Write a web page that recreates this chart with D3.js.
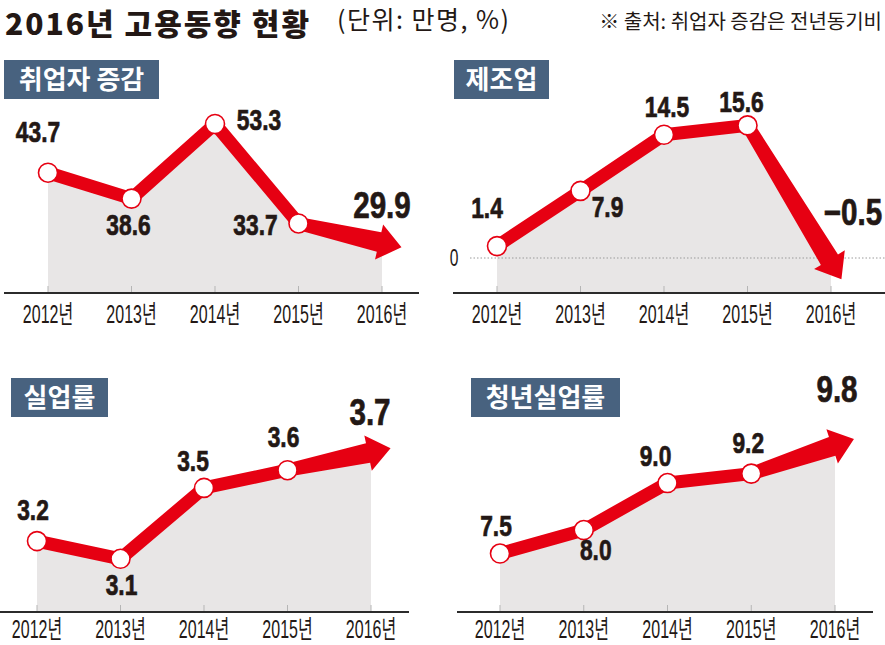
<!DOCTYPE html>
<html>
<head>
<meta charset="utf-8">
<script src="https://cdn.jsdelivr.net/npm/d3@7/dist/d3.min.js"></script>
<style>
  html, body { margin: 0; padding: 0; background: #fff; }
  svg { display: block; }
</style>
</head>
<body>
<svg id="chart" width="885" height="645"></svg>
<script>
// ---------------- DATA ----------------
const years = ["2012년", "2013년", "2014년", "2015년", "2016년"];
const employmentChange = [43.7, 38.6, 53.3, 33.7, 29.9];   // 취업자 증감 (만명)
const manufacturing    = [1.4, 7.9, 14.5, 15.6, -0.5];     // 제조업 (만명)
const unemployment     = [3.2, 3.1, 3.5, 3.6, 3.7];        // 실업률 (%)
const youthUnemployment = [7.5, 8.0, 9.0, 9.2, 9.8];       // 청년실업률 (%)
const panelTitles = ["취업자 증감", "제조업", "실업률", "청년실업률"];
const zeroTick = ["0"];
const mainTitle = "2016년 고용동향 현황";
const unitText = "(단위: 만명, %)";
const sourceText = "※ 출처: 취업자 증감은 전년동기비";

// ---------------- LAYOUT / STYLE ----------------
const RED = "#e60012", INK = "#231815", BOX = "#48627f", FILL = "#e8e6e6";
const NUMFONT = "'Liberation Sans', Arial, sans-serif";
const KFONT = "'Noto Sans CJK KR', 'Noto Sans', sans-serif";

const panels = [
  { title: panelTitles[0], values: employmentChange,
    xRange: [48, 382], axisY: 293, axisX: [4, 419], labelY: 323,
    yDomain: [20, 60], yRange: [293, 90],
    box: [4, 60, 155, 39],
    offsets: [[-10, -31], [-3, 36], [44, 6], [-43, 12], [0, -25]] },
  { title: panelTitles[1], values: manufacturing,
    xRange: [497, 831], axisY: 293, axisX: [453, 885], labelY: 323,
    yDomain: [-4, 18], yRange: [292, 105],
    box: [454, 60, 95, 39], zero: true,
    offsets: [[-10, -28], [27, 26], [3, -18], [-6, -13], [22, -37]] },
  { title: panelTitles[2], values: unemployment,
    xRange: [37, 371], axisY: 612, axisX: [0, 409], labelY: 638,
    yDomain: [2.8, 3.9], yRange: [612, 417],
    box: [11, 378, 97, 39],
    offsets: [[-4, -21], [1, 36], [-11, -17], [-4, -23], [-1, -27]] },
  { title: panelTitles[3], values: youthUnemployment,
    xRange: [500, 835], axisY: 612, axisX: [457, 873], labelY: 638,
    yDomain: [6.3, 10], yRange: [610, 436],
    box: [471, 378, 149, 39],
    offsets: [[-4, -18], [12, 30], [-12, -17], [-3, -21], [2, -43]] }
];

const svg = d3.select("#chart");

// condensed text helper
function ctext(g, str, x, y, opts) {
  const t = g.append("text")
    .attr("transform", `translate(${x},${y}) scale(${opts.sx || 1},1)`)
    .attr("text-anchor", opts.anchor || "middle")
    .attr("font-family", opts.family || NUMFONT)
    .attr("font-size", opts.size)
    .attr("font-weight", opts.weight || 400)
    .attr("fill", opts.fill || INK)
    .text(str);
  if (opts.stroke) t.attr("stroke", opts.fill || INK).attr("stroke-width", opts.stroke);
  return t;
}

// ---------------- HEADER ----------------
svg.append("text").attr("x", 5).attr("y", 35)
  .attr("font-family", KFONT).attr("font-weight", 900).attr("font-size", 30)
  .attr("letter-spacing", 2).attr("fill", INK).text(mainTitle);
svg.append("text").attr("x", 337).attr("y", 29)
  .attr("font-family", KFONT).attr("font-weight", 400).attr("font-size", 25)
  .attr("letter-spacing", 1.5).attr("fill", INK).text(unitText);
svg.append("text").attr("x", 882).attr("y", 29).attr("text-anchor", "end")
  .attr("font-family", KFONT).attr("font-weight", 400).attr("font-size", 20)
  .attr("fill", INK).text(sourceText);

// ---------------- PANELS ----------------
panels.forEach(p => {
  const g = svg.append("g");
  const x = d3.scalePoint().domain(years).range(p.xRange);
  const y = d3.scaleLinear().domain(p.yDomain).range(p.yRange);
  const pts = p.values.map((v, i) => [x(years[i]), y(v)]);

  // gray area
  const area = d3.area()
    .x((d, i) => x(years[i]))
    .y0(p.axisY)
    .y1(d => y(d));
  g.append("path").datum(p.values).attr("d", area).attr("fill", FILL);

  // zero reference line
  if (p.zero) {
    g.append("line")
      .attr("x1", 470).attr("x2", 885)
      .attr("y1", y(0)).attr("y2", y(0))
      .attr("stroke", "#9a9a9a").attr("stroke-width", 1)
      .attr("stroke-dasharray", "1.5,2");
    ctext(g, zeroTick[0], 454, y(0) + 8, { size: 24, sx: 0.65 });
  }

  // tick marks
  g.selectAll("line.tick").data(years).enter().append("line")
    .attr("x1", d => x(d)).attr("x2", d => x(d))
    .attr("y1", p.axisY - 7).attr("y2", p.axisY)
    .attr("stroke", "#b5b5b5").attr("stroke-width", 1);

  // axis baseline
  g.append("line")
    .attr("x1", p.axisX[0]).attr("x2", p.axisX[1])
    .attr("y1", p.axisY).attr("y2", p.axisY)
    .attr("stroke", "#2b2b2b").attr("stroke-width", 2);

  // year labels
  years.forEach(yr => {
    ctext(g, yr, x(yr), p.labelY, { size: 25, sx: 0.64, family: "'Liberation Sans', 'Noto Sans CJK KR', sans-serif" });
  });

  // thick red line (first four points)
  const line = d3.line();
  g.append("path").datum(pts.slice(0, 4)).attr("d", line)
    .attr("fill", "none").attr("stroke", RED).attr("stroke-width", 13)
    .attr("stroke-linejoin", "round");

  // last segment as an arrow
  const a = pts[3], b = pts[4];
  const len = Math.hypot(b[0] - a[0], b[1] - a[1]);
  const d = [(b[0] - a[0]) / len, (b[1] - a[1]) / len];
  const n = [-d[1], d[0]];
  const base = [b[0] - d[0] * 3, b[1] - d[1] * 3];
  const tip = [b[0] + d[0] * 20, b[1] + d[1] * 20];
  const off = (pt, k) => [pt[0] + n[0] * k, pt[1] + n[1] * k];
  const poly = [off(a, 6.5), off(base, 10), off(base, 18), tip, off(base, -18), off(base, -10), off(a, -6.5)];
  g.append("path").attr("d", "M" + poly.map(q => q.join(",")).join("L") + "Z").attr("fill", RED);

  // circles
  g.selectAll("circle").data(pts.slice(0, 4)).enter().append("circle")
    .attr("cx", q => q[0]).attr("cy", q => q[1]).attr("r", 9.5)
    .attr("fill", "#fff").attr("stroke", RED).attr("stroke-width", 1.6);

  // value labels
  p.values.forEach((v, i) => {
    const big = i === 4;
    const txt = v < 0 ? "−" + Math.abs(v).toFixed(1) : v.toFixed(1);
    ctext(g, txt, pts[i][0] + p.offsets[i][0], pts[i][1] + p.offsets[i][1],
      { size: big ? 37 : 30, sx: big ? 0.8 : 0.76, weight: 700, stroke: 0.7 });
  });

  // title box
  g.append("rect").attr("x", p.box[0]).attr("y", p.box[1])
    .attr("width", p.box[2]).attr("height", p.box[3]).attr("fill", BOX);
  g.append("text").attr("x", p.box[0] + p.box[2] / 2).attr("y", p.box[1] + p.box[3] / 2 + 9)
    .attr("text-anchor", "middle").attr("font-family", KFONT)
    .attr("font-weight", 700).attr("font-size", 26).attr("fill", "#fff")
    .text(p.title);
});
</script>
</body>
</html>
